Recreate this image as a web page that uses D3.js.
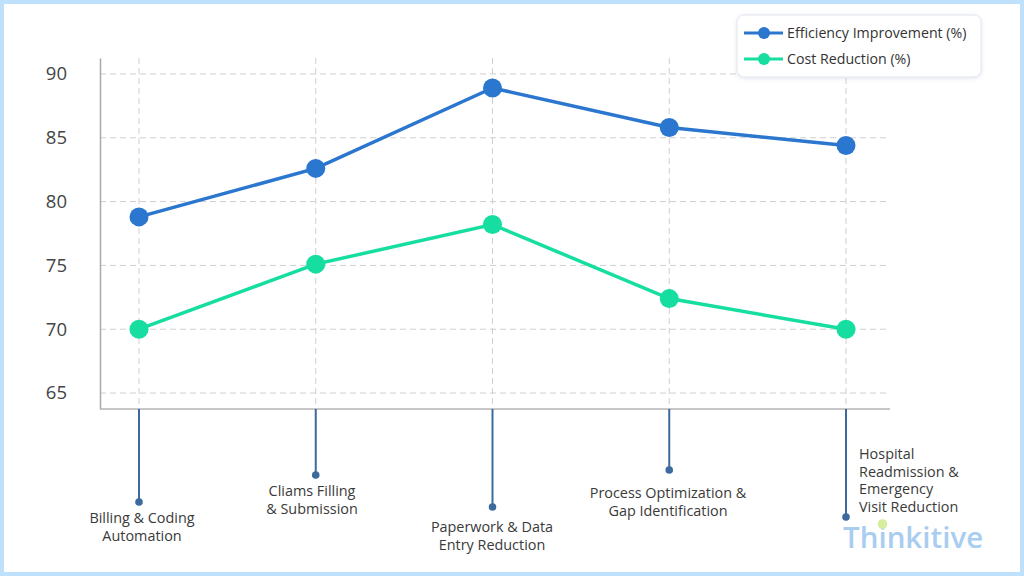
<!DOCTYPE html>
<html><head><meta charset="utf-8">
<script src="https://cdn.jsdelivr.net/npm/d3@7"></script>
<style>
html,body{margin:0;padding:0;background:#fff;}
svg{display:block;font-family:"Open Sans","Noto Sans",sans-serif;}
</style></head>
<body><svg id="c" width="1024" height="576"></svg>
<script>
const categories = [
  ["Billing & Coding","Automation"],
  ["Cliams Filling","& Submission"],
  ["Paperwork & Data","Entry Reduction"],
  ["Process Optimization &","Gap Identification"],
  ["Hospital","Readmission &","Emergency","Visit Reduction"]
];
const efficiency = [78.8, 82.6, 88.9, 85.8, 84.4];
const costReduction = [70.0, 75.1, 78.2, 72.4, 70.0];
const yTicks = [65, 70, 75, 80, 85, 90];
const seriesNames = ["Efficiency Improvement (%)", "Cost Reduction (%)"];
const stemDepth = [93, 66, 98, 61, 108];

(function(){
const svg = d3.select("#c");
const W = 1024, H = 576;
const FONT = "'Open Sans', sans-serif";
// frame
svg.append("rect").attr("x",2).attr("y",2).attr("width",W-4).attr("height",H-4)
  .attr("fill","#fff").attr("stroke","#bfe0fb").attr("stroke-width",4);

const pl = 100, pr = 890, pt = 58, pb = 409;
const x = d3.scalePoint().domain(d3.range(categories.length)).range([139, 846]);
const y = d3.scaleLinear().domain([63.75, 91.25]).range([pb, pt]);

// grid
const g = svg.append("g");
g.selectAll(".hg").data(yTicks).join("line")
  .attr("x1",pl).attr("x2",pr).attr("y1",d=>y(d)).attr("y2",d=>y(d))
  .attr("stroke","#cfcfcf").attr("stroke-width",1).attr("stroke-dasharray","6,4");
g.selectAll(".vg").data(d3.range(categories.length)).join("line")
  .attr("x1",d=>x(d)).attr("x2",d=>x(d)).attr("y1",pt).attr("y2",pb)
  .attr("stroke","#cfcfcf").attr("stroke-width",1).attr("stroke-dasharray","6,4");

// axes
const yAxis = d3.axisLeft(y).tickValues(yTicks).tickSize(0).tickPadding(33);
const ya = svg.append("g").attr("transform",`translate(${pl},0)`).call(yAxis);
ya.select(".domain").attr("stroke","#a8a8a8").attr("stroke-width",1.5);
ya.selectAll("text").attr("font-size",18.5).attr("fill","#444").attr("font-family",FONT);
svg.append("line").attr("x1",pl).attr("x2",pr).attr("y1",pb).attr("y2",pb)
  .attr("stroke","#b5b5b5").attr("stroke-width",1.5);

// stems below axis
const stemColor = "#3c6a9c";
const stems = svg.append("g");
categories.forEach((c,i)=>{
  const yd = pb + stemDepth[i];
  stems.append("line").attr("x1",x(i)).attr("x2",x(i)).attr("y1",pb).attr("y2",yd)
    .attr("stroke",stemColor).attr("stroke-width",2);
  stems.append("circle").attr("cx",x(i)).attr("cy",yd).attr("r",3.8).attr("fill",stemColor);
});
// labels
const labelPos = [
  {x:142, y:523, anchor:"middle"},
  {x:312, y:496, anchor:"middle"},
  {x:492, y:532, anchor:"middle"},
  {x:668, y:498, anchor:"middle"},
  {x:859, y:459, anchor:"start"}
];
categories.forEach((lines,i)=>{
  const p = labelPos[i];
  const t = svg.append("text").attr("text-anchor",p.anchor).attr("font-size",14.4)
    .attr("fill","#3a3a3a").attr("font-family",FONT);
  lines.forEach((ln,j)=>{
    t.append("tspan").attr("x",p.x).attr("y",p.y + j*17.5).text(ln);
  });
});

// series
const colors = ["#2b76cf", "#16dea0"];
[efficiency, costReduction].forEach((vals,si)=>{
  const line = d3.line().x((d,i)=>x(i)).y(d=>y(d));
  svg.append("path").datum(vals).attr("d",line).attr("fill","none")
    .attr("stroke",colors[si]).attr("stroke-width",3.5);
  svg.append("g").selectAll("circle").data(vals).join("circle")
    .attr("cx",(d,i)=>x(i)).attr("cy",d=>y(d)).attr("r",9.5).attr("fill",colors[si]);
});

// legend
const defs = svg.append("defs");
const f = defs.append("filter").attr("id","sh").attr("x","-10%").attr("y","-20%").attr("width","120%").attr("height","150%");
f.append("feDropShadow").attr("dx",0).attr("dy",1).attr("stdDeviation",2).attr("flood-color","#8899bb").attr("flood-opacity",0.25);
const lg = svg.append("g");
lg.append("rect").attr("x",737).attr("y",15).attr("width",244).attr("height",62).attr("rx",7)
  .attr("fill","#fff").attr("stroke","#e3e6f0").attr("stroke-width",1).attr("filter","url(#sh)");
seriesNames.forEach((n,i)=>{
  const yy = 33 + i*26;
  lg.append("line").attr("x1",744).attr("x2",783).attr("y1",yy).attr("y2",yy)
    .attr("stroke",colors[i]).attr("stroke-width",3);
  lg.append("circle").attr("cx",764).attr("cy",yy).attr("r",6).attr("fill",colors[i]);
  lg.append("text").attr("x",787).attr("y",yy+5).attr("font-size",14.2).attr("fill","#333")
    .attr("font-family",FONT).text(n);
});

// watermark logo
const logo = svg.append("text").attr("x",843).attr("y",548).attr("font-size",29.5)
  .attr("font-weight",600).attr("fill","#a9cdf0").attr("font-family",FONT)
  .text("Thinkitive");
const node = logo.node();
try {
  const s = node.getStartPositionOfChar(2), e = node.getEndPositionOfChar(2);
  svg.append("circle").attr("cx",(s.x+e.x)/2).attr("cy",524).attr("r",4.8).attr("fill","#d6ec9e");
} catch(err) {}
})();
</script>
</body></html>
